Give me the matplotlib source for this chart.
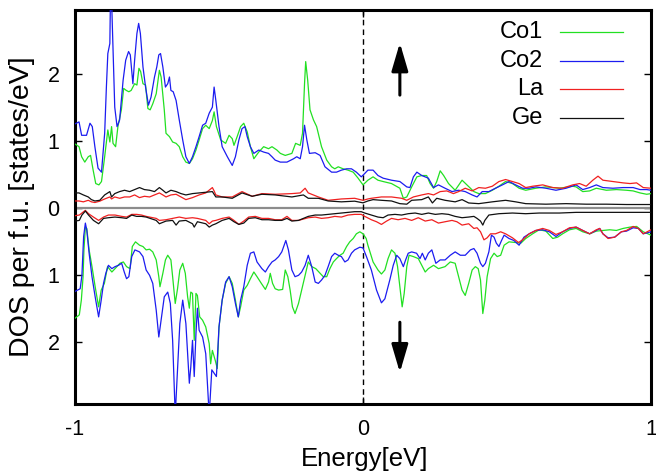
#!/usr/bin/env python3

# spin-resolved partial DOS of Co1, Co2, La and Ge around the Fermi level

import matplotlib

matplotlib.use("Agg")
import matplotlib.pyplot as plt
import numpy as np
from matplotlib.ticker import FuncFormatter

plt.rcParams["font.family"] = ["Liberation Sans", "DejaVu Sans"]
plt.rcParams["axes.unicode_minus"] = False

# (energy [eV], DOS [states/eV]) pairs, spin up
co1_up = [
    (-1.0, 0.95), (-0.986, 0.91), (-0.977, 0.76), (-0.966, 0.68), (-0.954, 0.76), (-0.946, 0.78),
    (-0.937, 0.56), (-0.928, 0.36), (-0.917, 0.34), (-0.908, 0.39), (-0.897, 0.76), (-0.886, 1.16),
    (-0.879, 0.98), (-0.873, 1.21), (-0.868, 0.96), (-0.859, 0.91), (-0.851, 1.21), (-0.839, 1.46),
    (-0.831, 1.78), (-0.822, 1.75), (-0.813, 1.73), (-0.805, 1.75), (-0.793, 1.85), (-0.785, 1.83),
    (-0.778, 2.08), (-0.772, 2.03), (-0.764, 1.85), (-0.755, 1.83), (-0.747, 1.48), (-0.739, 1.46),
    (-0.730, 1.55), (-0.718, 1.70), (-0.707, 2.05), (-0.701, 1.95), (-0.690, 1.46), (-0.684, 1.11),
    (-0.672, 1.06), (-0.661, 0.98), (-0.649, 0.96), (-0.638, 0.91), (-0.626, 0.76), (-0.615, 0.68),
    (-0.603, 0.66), (-0.592, 0.73), (-0.580, 0.86), (-0.569, 1.01), (-0.557, 1.18), (-0.546, 1.23),
    (-0.534, 1.18), (-0.523, 1.30), (-0.517, 1.43), (-0.509, 1.21), (-0.494, 1.01), (-0.477, 0.96),
    (-0.465, 1.08), (-0.454, 1.03), (-0.448, 0.93), (-0.437, 1.06), (-0.425, 1.21), (-0.414, 1.26),
    (-0.402, 1.13), (-0.391, 0.91), (-0.379, 0.73), (-0.362, 0.83), (-0.345, 0.91), (-0.328, 0.88),
    (-0.316, 0.91), (-0.299, 0.86), (-0.287, 0.81), (-0.270, 0.78), (-0.247, 0.81), (-0.234, 0.96),
    (-0.218, 0.93), (-0.210, 1.11), (-0.203, 1.85), (-0.199, 2.18), (-0.192, 1.90), (-0.184, 1.46),
    (-0.172, 1.31), (-0.161, 1.21), (-0.144, 0.91), (-0.126, 0.71), (-0.109, 0.61), (-0.098, 0.58),
    (-0.086, 0.61), (-0.069, 0.58), (-0.052, 0.56), (-0.034, 0.53), (-0.017, 0.44), (0.000, 0.34),
    (0.017, 0.41), (0.035, 0.46), (0.052, 0.41), (0.070, 0.39), (0.099, 0.36), (0.128, 0.29),
    (0.140, 0.14), (0.152, 0.16), (0.169, 0.31), (0.187, 0.46), (0.204, 0.48), (0.221, 0.48),
    (0.233, 0.36), (0.245, 0.29), (0.256, 0.39), (0.268, 0.55), (0.280, 0.48), (0.297, 0.36),
    (0.320, 0.26), (0.344, 0.41), (0.361, 0.34), (0.385, 0.24), (0.402, 0.21), (0.425, 0.21),
    (0.449, 0.26), (0.472, 0.32), (0.495, 0.39), (0.519, 0.36), (0.542, 0.29), (0.565, 0.26),
    (0.600, 0.29), (0.635, 0.31), (0.682, 0.29), (0.728, 0.32), (0.740, 0.31), (0.763, 0.24),
    (0.787, 0.25), (0.810, 0.29), (0.845, 0.26), (0.880, 0.27), (0.915, 0.26), (0.938, 0.25),
    (0.962, 0.22), (0.985, 0.20), (1.0, 0.21),
]
co2_up = [
    (-1.0, 1.25), (-0.986, 1.28), (-0.977, 1.08), (-0.960, 1.08), (-0.948, 1.26), (-0.940, 1.21),
    (-0.931, 0.91), (-0.920, 0.59), (-0.908, 0.53), (-0.897, 1.11), (-0.891, 1.80), (-0.886, 2.30),
    (-0.879, 2.45), (-0.877, 3.1), (-0.873, 3.1), (-0.868, 2.35), (-0.862, 1.50), (-0.854, 1.21),
    (-0.845, 1.31), (-0.833, 1.90), (-0.824, 2.20), (-0.814, 2.33), (-0.808, 2.28), (-0.799, 1.85),
    (-0.793, 2.20), (-0.785, 2.60), (-0.779, 2.75), (-0.773, 2.60), (-0.764, 2.10), (-0.755, 1.80),
    (-0.745, 1.53), (-0.736, 1.65), (-0.724, 1.95), (-0.716, 2.10), (-0.709, 2.28), (-0.703, 2.30),
    (-0.695, 2.10), (-0.686, 1.80), (-0.678, 1.85), (-0.672, 1.95), (-0.667, 1.75), (-0.659, 1.73),
    (-0.649, 1.60), (-0.638, 1.31), (-0.626, 1.01), (-0.615, 0.76), (-0.603, 0.66), (-0.592, 0.76),
    (-0.580, 0.91), (-0.569, 1.06), (-0.557, 1.23), (-0.546, 1.26), (-0.534, 1.41), (-0.523, 1.50),
    (-0.517, 1.80), (-0.511, 1.60), (-0.500, 1.21), (-0.489, 0.91), (-0.471, 0.76), (-0.454, 0.63),
    (-0.443, 0.76), (-0.431, 1.01), (-0.420, 1.18), (-0.410, 1.21), (-0.402, 1.06), (-0.391, 0.91),
    (-0.379, 0.81), (-0.362, 0.86), (-0.345, 0.83), (-0.328, 0.81), (-0.316, 0.76), (-0.305, 0.71),
    (-0.287, 0.68), (-0.264, 0.68), (-0.241, 0.73), (-0.230, 0.76), (-0.218, 0.73), (-0.210, 0.91),
    (-0.203, 1.23), (-0.195, 1.01), (-0.186, 0.81), (-0.166, 0.82), (-0.149, 0.78), (-0.132, 0.61),
    (-0.109, 0.53), (-0.092, 0.53), (-0.075, 0.56), (-0.057, 0.58), (-0.040, 0.58), (-0.023, 0.53),
    (-0.006, 0.46), (0.006, 0.51), (0.017, 0.56), (0.035, 0.56), (0.052, 0.48), (0.070, 0.44),
    (0.099, 0.41), (0.128, 0.39), (0.152, 0.31), (0.163, 0.30), (0.175, 0.46), (0.187, 0.53),
    (0.204, 0.48), (0.227, 0.44), (0.245, 0.30), (0.262, 0.34), (0.285, 0.29), (0.309, 0.24),
    (0.332, 0.26), (0.355, 0.24), (0.379, 0.19), (0.396, 0.16), (0.414, 0.24), (0.437, 0.24),
    (0.460, 0.29), (0.484, 0.34), (0.507, 0.39), (0.530, 0.34), (0.554, 0.29), (0.577, 0.29),
    (0.600, 0.31), (0.635, 0.29), (0.670, 0.26), (0.705, 0.29), (0.740, 0.34), (0.763, 0.27),
    (0.787, 0.30), (0.810, 0.34), (0.833, 0.30), (0.868, 0.29), (0.903, 0.30), (0.938, 0.30),
    (0.962, 0.27), (0.985, 0.27), (1.0, 0.26),
]
la_up = [
    (-1.0, 0.10), (-0.986, 0.10), (-0.971, 0.087), (-0.954, 0.11), (-0.943, 0.087), (-0.931, 0.077),
    (-0.914, 0.097), (-0.897, 0.13), (-0.879, 0.16), (-0.873, 0.13), (-0.862, 0.16), (-0.845, 0.14),
    (-0.828, 0.16), (-0.810, 0.16), (-0.793, 0.19), (-0.776, 0.15), (-0.759, 0.17), (-0.741, 0.16),
    (-0.724, 0.19), (-0.707, 0.22), (-0.695, 0.19), (-0.684, 0.16), (-0.667, 0.19), (-0.649, 0.20),
    (-0.632, 0.16), (-0.615, 0.12), (-0.592, 0.15), (-0.569, 0.19), (-0.546, 0.22), (-0.523, 0.30),
    (-0.517, 0.25), (-0.511, 0.19), (-0.489, 0.16), (-0.454, 0.16), (-0.420, 0.24), (-0.385, 0.17),
    (-0.351, 0.21), (-0.305, 0.20), (-0.247, 0.21), (-0.218, 0.22), (-0.201, 0.29), (-0.190, 0.22),
    (-0.155, 0.16), (-0.121, 0.11), (-0.075, 0.13), (-0.029, 0.14), (0.000, 0.11), (0.017, 0.13),
    (0.029, 0.14), (0.064, 0.16), (0.099, 0.16), (0.134, 0.14), (0.152, 0.11), (0.175, 0.16),
    (0.204, 0.19), (0.227, 0.21), (0.245, 0.19), (0.268, 0.24), (0.291, 0.25), (0.314, 0.21),
    (0.332, 0.24), (0.355, 0.29), (0.379, 0.25), (0.402, 0.30), (0.425, 0.29), (0.449, 0.32),
    (0.472, 0.39), (0.495, 0.42), (0.519, 0.39), (0.542, 0.36), (0.565, 0.30), (0.589, 0.32),
    (0.624, 0.34), (0.659, 0.30), (0.693, 0.29), (0.728, 0.34), (0.752, 0.36), (0.775, 0.32),
    (0.798, 0.41), (0.816, 0.47), (0.833, 0.41), (0.868, 0.39), (0.903, 0.37), (0.927, 0.36),
    (0.950, 0.37), (0.973, 0.30), (1.0, 0.29),
]
ge_up = [
    (-1.0, 0.22), (-0.986, 0.22), (-0.971, 0.19), (-0.954, 0.16), (-0.943, 0.12), (-0.931, 0.10),
    (-0.914, 0.11), (-0.897, 0.19), (-0.879, 0.24), (-0.873, 0.16), (-0.862, 0.21), (-0.845, 0.24),
    (-0.828, 0.26), (-0.810, 0.24), (-0.793, 0.27), (-0.776, 0.30), (-0.759, 0.27), (-0.741, 0.26),
    (-0.724, 0.24), (-0.707, 0.30), (-0.695, 0.26), (-0.684, 0.22), (-0.667, 0.26), (-0.649, 0.24),
    (-0.632, 0.21), (-0.615, 0.19), (-0.592, 0.21), (-0.569, 0.22), (-0.546, 0.23), (-0.523, 0.24),
    (-0.511, 0.16), (-0.489, 0.16), (-0.454, 0.14), (-0.420, 0.22), (-0.385, 0.17), (-0.351, 0.20),
    (-0.305, 0.19), (-0.247, 0.16), (-0.207, 0.19), (-0.190, 0.14), (-0.155, 0.14), (-0.121, 0.10),
    (-0.075, 0.087), (-0.029, 0.097), (0.000, 0.072), (0.017, 0.10), (0.035, 0.12), (0.064, 0.11),
    (0.099, 0.10), (0.128, 0.06), (0.152, 0.052), (0.169, 0.11), (0.204, 0.12), (0.227, 0.16),
    (0.241, 0.07), (0.256, 0.14), (0.285, 0.11), (0.320, 0.087), (0.344, 0.12), (0.367, 0.07),
    (0.402, 0.06), (0.449, 0.087), (0.495, 0.11), (0.530, 0.087), (0.565, 0.06), (0.635, 0.052),
    (0.705, 0.06), (0.775, 0.052), (0.845, 0.052), (0.915, 0.047), (1.0, 0.047),
]

# spin down, drawn as negative values
co1_dn = [
    (-1.0, -1.65), (-0.985, -1.60), (-0.978, -1.38), (-0.972, -1.03), (-0.969, -0.63), (-0.964, -0.29),
    (-0.959, -0.31), (-0.951, -0.63), (-0.941, -0.88), (-0.930, -1.18), (-0.918, -1.48), (-0.909, -1.23),
    (-0.898, -1.13), (-0.887, -0.88), (-0.872, -0.96), (-0.861, -0.91), (-0.844, -0.83), (-0.832, -0.81),
    (-0.821, -0.88), (-0.809, -0.91), (-0.801, -0.58), (-0.790, -0.51), (-0.776, -0.56), (-0.764, -0.58),
    (-0.753, -0.63), (-0.741, -0.62), (-0.730, -0.66), (-0.718, -0.78), (-0.709, -1.03), (-0.705, -1.18),
    (-0.695, -0.98), (-0.686, -0.78), (-0.678, -0.71), (-0.667, -0.78), (-0.661, -1.03), (-0.652, -1.43),
    (-0.644, -1.21), (-0.636, -0.93), (-0.626, -0.83), (-0.617, -0.98), (-0.609, -1.33), (-0.603, -1.50),
    (-0.598, -1.26), (-0.592, -1.28), (-0.586, -1.98), (-0.580, -1.28), (-0.575, -1.31), (-0.567, -1.63),
    (-0.557, -1.68), (-0.546, -1.78), (-0.534, -2.03), (-0.529, -2.33), (-0.523, -2.13), (-0.513, -2.28),
    (-0.506, -2.40), (-0.500, -1.78), (-0.489, -1.38), (-0.477, -1.13), (-0.465, -1.03), (-0.454, -1.13),
    (-0.443, -1.38), (-0.433, -1.63), (-0.425, -1.48), (-0.414, -1.23), (-0.402, -1.16), (-0.391, -1.06),
    (-0.379, -0.96), (-0.368, -1.03), (-0.353, -1.13), (-0.339, -1.22), (-0.328, -1.11), (-0.322, -0.98),
    (-0.314, -1.13), (-0.305, -1.21), (-0.293, -1.23), (-0.279, -1.22), (-0.270, -0.93), (-0.261, -1.03),
    (-0.253, -1.23), (-0.245, -1.48), (-0.236, -1.58), (-0.224, -1.43), (-0.213, -1.23), (-0.199, -0.98),
    (-0.190, -0.81), (-0.178, -0.88), (-0.164, -0.91), (-0.149, -0.98), (-0.138, -1.03), (-0.126, -1.03),
    (-0.115, -0.91), (-0.103, -0.81), (-0.092, -0.76), (-0.080, -0.71), (-0.069, -0.68), (-0.057, -0.58),
    (-0.046, -0.51), (-0.034, -0.46), (-0.023, -0.39), (-0.011, -0.36), (0.000, -0.39), (0.011, -0.46),
    (0.017, -0.56), (0.035, -0.81), (0.052, -0.93), (0.064, -0.99), (0.076, -0.93), (0.087, -0.76),
    (0.099, -0.63), (0.111, -0.68), (0.120, -0.88), (0.128, -1.18), (0.136, -1.48), (0.143, -1.28),
    (0.152, -0.88), (0.160, -0.71), (0.175, -0.73), (0.192, -0.76), (0.204, -0.86), (0.216, -0.96),
    (0.227, -0.91), (0.245, -0.86), (0.262, -0.91), (0.285, -0.88), (0.303, -0.81), (0.320, -0.83),
    (0.332, -1.03), (0.344, -1.23), (0.355, -1.31), (0.367, -1.13), (0.379, -0.93), (0.390, -0.88),
    (0.400, -0.91), (0.408, -1.08), (0.416, -1.58), (0.423, -1.38), (0.431, -1.03), (0.443, -0.76),
    (0.455, -0.68), (0.466, -0.73), (0.478, -0.71), (0.490, -0.56), (0.507, -0.51), (0.530, -0.52),
    (0.548, -0.53), (0.565, -0.46), (0.589, -0.39), (0.612, -0.33), (0.635, -0.35), (0.659, -0.46),
    (0.676, -0.44), (0.693, -0.39), (0.717, -0.33), (0.740, -0.31), (0.763, -0.36), (0.787, -0.39),
    (0.810, -0.35), (0.833, -0.34), (0.857, -0.33), (0.880, -0.34), (0.903, -0.31), (0.927, -0.29),
    (0.950, -0.28), (0.973, -0.36), (1.0, -0.41),
]
co2_dn = [
    (-1.0, -1.25), (-0.982, -1.21), (-0.976, -1.01), (-0.970, -0.43), (-0.964, -0.23), (-0.959, -0.34),
    (-0.951, -0.68), (-0.941, -1.03), (-0.930, -1.33), (-0.918, -1.63), (-0.909, -1.38), (-0.901, -1.13),
    (-0.893, -0.98), (-0.884, -0.86), (-0.872, -0.91), (-0.861, -0.88), (-0.849, -0.86), (-0.838, -0.83),
    (-0.829, -0.96), (-0.821, -1.06), (-0.813, -1.03), (-0.803, -0.73), (-0.792, -0.63), (-0.776, -0.66),
    (-0.764, -0.73), (-0.753, -0.93), (-0.741, -1.01), (-0.730, -1.13), (-0.718, -1.53), (-0.709, -1.93),
    (-0.701, -1.68), (-0.690, -1.33), (-0.678, -1.26), (-0.669, -1.43), (-0.661, -1.98), (-0.652, -3.1),
    (-0.644, -2.42), (-0.636, -1.73), (-0.626, -1.38), (-0.615, -1.73), (-0.603, -2.62), (-0.598, -2.38),
    (-0.592, -1.98), (-0.586, -2.52), (-0.580, -1.88), (-0.575, -1.50), (-0.569, -1.83), (-0.557, -1.93),
    (-0.546, -2.18), (-0.534, -3.1), (-0.525, -2.42), (-0.517, -2.47), (-0.509, -2.52), (-0.500, -1.78),
    (-0.489, -1.38), (-0.477, -1.11), (-0.465, -1.03), (-0.454, -1.18), (-0.443, -1.43), (-0.433, -1.63),
    (-0.425, -1.38), (-0.414, -1.18), (-0.402, -0.86), (-0.391, -0.68), (-0.379, -0.66), (-0.368, -0.81),
    (-0.351, -0.91), (-0.339, -0.96), (-0.328, -0.88), (-0.316, -0.81), (-0.305, -0.78), (-0.293, -0.73),
    (-0.282, -0.66), (-0.268, -0.49), (-0.259, -0.63), (-0.247, -0.93), (-0.236, -1.03), (-0.224, -1.01),
    (-0.213, -0.96), (-0.201, -0.86), (-0.190, -0.71), (-0.178, -0.88), (-0.166, -1.11), (-0.155, -1.13),
    (-0.144, -1.08), (-0.132, -1.01), (-0.121, -0.88), (-0.109, -0.73), (-0.098, -0.68), (-0.086, -0.71),
    (-0.075, -0.73), (-0.063, -0.81), (-0.052, -0.78), (-0.040, -0.68), (-0.029, -0.63), (-0.011, -0.59),
    (0.000, -0.60), (0.012, -0.73), (0.029, -0.93), (0.047, -1.23), (0.064, -1.42), (0.076, -1.36),
    (0.093, -1.08), (0.105, -0.86), (0.117, -0.71), (0.128, -0.76), (0.140, -0.88), (0.148, -0.78),
    (0.157, -0.68), (0.169, -0.66), (0.186, -0.68), (0.198, -0.76), (0.206, -0.68), (0.216, -0.78),
    (0.227, -0.68), (0.239, -0.63), (0.253, -0.83), (0.268, -0.78), (0.285, -0.78), (0.303, -0.71),
    (0.320, -0.66), (0.338, -0.71), (0.355, -0.71), (0.373, -0.63), (0.385, -0.61), (0.396, -0.68),
    (0.408, -0.83), (0.416, -0.88), (0.425, -0.83), (0.437, -0.66), (0.446, -0.41), (0.455, -0.44),
    (0.463, -0.53), (0.472, -0.58), (0.481, -0.49), (0.490, -0.41), (0.507, -0.46), (0.524, -0.49),
    (0.542, -0.56), (0.559, -0.44), (0.577, -0.39), (0.600, -0.34), (0.624, -0.33), (0.647, -0.36),
    (0.670, -0.43), (0.693, -0.36), (0.717, -0.31), (0.740, -0.29), (0.763, -0.34), (0.787, -0.39),
    (0.810, -0.34), (0.822, -0.31), (0.833, -0.39), (0.851, -0.45), (0.874, -0.44), (0.897, -0.36),
    (0.915, -0.35), (0.938, -0.30), (0.956, -0.31), (0.973, -0.39), (1.0, -0.36),
]
la_dn = [
    (-1.0, -0.12), (-0.985, -0.11), (-0.976, -0.08), (-0.964, -0.04), (-0.953, -0.09), (-0.936, -0.14),
    (-0.918, -0.19), (-0.901, -0.14), (-0.884, -0.11), (-0.861, -0.11), (-0.838, -0.13), (-0.821, -0.14),
    (-0.803, -0.10), (-0.786, -0.10), (-0.769, -0.11), (-0.753, -0.13), (-0.718, -0.16), (-0.707, -0.19),
    (-0.684, -0.18), (-0.661, -0.16), (-0.638, -0.14), (-0.615, -0.16), (-0.592, -0.15), (-0.575, -0.16),
    (-0.546, -0.19), (-0.534, -0.24), (-0.523, -0.20), (-0.511, -0.19), (-0.489, -0.16), (-0.465, -0.14),
    (-0.448, -0.19), (-0.431, -0.25), (-0.414, -0.20), (-0.397, -0.14), (-0.374, -0.13), (-0.351, -0.16),
    (-0.328, -0.16), (-0.305, -0.18), (-0.282, -0.18), (-0.264, -0.13), (-0.247, -0.19), (-0.224, -0.19),
    (-0.190, -0.15), (-0.166, -0.14), (-0.144, -0.16), (-0.121, -0.15), (-0.098, -0.13), (-0.075, -0.14),
    (-0.052, -0.11), (-0.029, -0.10), (-0.006, -0.10), (0.006, -0.13), (0.029, -0.18), (0.047, -0.21),
    (0.064, -0.25), (0.082, -0.20), (0.099, -0.16), (0.122, -0.18), (0.146, -0.16), (0.169, -0.19),
    (0.192, -0.15), (0.216, -0.20), (0.239, -0.18), (0.262, -0.23), (0.285, -0.21), (0.309, -0.19),
    (0.326, -0.21), (0.344, -0.26), (0.367, -0.24), (0.385, -0.31), (0.396, -0.30), (0.408, -0.36),
    (0.420, -0.48), (0.431, -0.45), (0.443, -0.39), (0.460, -0.39), (0.478, -0.36), (0.495, -0.39),
    (0.519, -0.45), (0.540, -0.52), (0.554, -0.48), (0.577, -0.39), (0.600, -0.34), (0.624, -0.31),
    (0.647, -0.34), (0.670, -0.40), (0.693, -0.36), (0.717, -0.30), (0.740, -0.29), (0.763, -0.34),
    (0.787, -0.39), (0.810, -0.33), (0.822, -0.31), (0.833, -0.39), (0.851, -0.46), (0.874, -0.44),
    (0.897, -0.36), (0.915, -0.34), (0.938, -0.28), (0.956, -0.31), (0.973, -0.39), (1.0, -0.33),
]
ge_dn = [
    (-1.0, -0.20), (-0.985, -0.19), (-0.976, -0.11), (-0.964, -0.05), (-0.953, -0.11), (-0.936, -0.19),
    (-0.918, -0.24), (-0.901, -0.16), (-0.884, -0.15), (-0.861, -0.14), (-0.838, -0.15), (-0.821, -0.16),
    (-0.803, -0.11), (-0.786, -0.13), (-0.769, -0.13), (-0.753, -0.14), (-0.718, -0.19), (-0.707, -0.24),
    (-0.684, -0.20), (-0.661, -0.19), (-0.649, -0.26), (-0.638, -0.20), (-0.615, -0.19), (-0.592, -0.24),
    (-0.586, -0.29), (-0.575, -0.21), (-0.546, -0.24), (-0.534, -0.29), (-0.523, -0.26), (-0.511, -0.24),
    (-0.489, -0.19), (-0.465, -0.16), (-0.448, -0.21), (-0.431, -0.25), (-0.414, -0.23), (-0.397, -0.16),
    (-0.374, -0.15), (-0.351, -0.18), (-0.328, -0.18), (-0.305, -0.19), (-0.282, -0.19), (-0.264, -0.16),
    (-0.247, -0.20), (-0.224, -0.19), (-0.190, -0.13), (-0.166, -0.11), (-0.144, -0.11), (-0.121, -0.10),
    (-0.098, -0.09), (-0.075, -0.08), (-0.052, -0.07), (-0.029, -0.06), (-0.006, -0.06), (0.006, -0.08),
    (0.029, -0.11), (0.052, -0.14), (0.070, -0.15), (0.087, -0.11), (0.111, -0.10), (0.134, -0.11),
    (0.157, -0.09), (0.181, -0.08), (0.204, -0.10), (0.227, -0.08), (0.251, -0.10), (0.274, -0.09),
    (0.297, -0.10), (0.320, -0.13), (0.344, -0.15), (0.367, -0.14), (0.385, -0.13), (0.396, -0.16),
    (0.408, -0.20), (0.416, -0.26), (0.423, -0.19), (0.437, -0.11), (0.472, -0.09), (0.519, -0.08),
    (0.565, -0.09), (0.612, -0.08), (0.682, -0.08), (0.740, -0.07), (0.798, -0.07), (0.857, -0.07),
    (1.0, -0.07),
]

labels = ["Co1", "Co2", "La", "Ge"]
colors = ["#22e022", "#1c1cf0", "#f02020", "#111111"]


def main():
    fig = plt.figure(figsize=(6.56, 4.76), dpi=100)
    ax = fig.add_axes([75 / 656, 1 - 404 / 476, 576 / 656, 394 / 476])

    curves = [(co1_up, co1_dn), (co2_up, co2_dn), (la_up, la_dn), (ge_up, ge_dn)]
    for (up, dn), color in zip(curves, colors):
        for data in (up, dn):
            arr = np.array(data)
            ax.plot(arr[:, 0], arr[:, 1], color=color, lw=0.9, zorder=3)

    # zero line and Fermi level
    ax.axhline(0, color="#8c8c8c", lw=1.6, zorder=2)
    ax.axvline(0, color="k", lw=1.0, ls=(0, (4, 3)), zorder=2)

    # spin direction arrows
    arrow = dict(arrowstyle="-|>,head_length=0.85,head_width=0.25", color="k", lw=2.2,
                 mutation_scale=20, shrinkA=0, shrinkB=0)
    ax.annotate("", xy=(0.128, 2.46), xytext=(0.128, 1.68), arrowprops=arrow)
    ax.annotate("", xy=(0.128, -2.46), xytext=(0.128, -1.71), arrowprops=arrow)

    ax.set_xlim(-1, 1)
    ax.set_ylim(-2.93, 2.95)
    ax.set_xticks([-1, 0, 1])
    ax.set_yticks([-2, -1, 0, 1, 2])
    ax.yaxis.set_major_formatter(FuncFormatter(lambda v, _: f"{abs(v):g}"))
    ax.tick_params(direction="in", length=5, width=1, labelsize=15.5, top=True, right=True)
    ax.tick_params(axis="y", pad=11)
    ax.tick_params(axis="x", pad=10.5)
    for spine in ax.spines.values():
        spine.set_linewidth(2.2)

    ax.set_xlabel("Energy[eV]", fontsize=18.5)
    ax.xaxis.set_label_coords(0.503, -0.108)
    ax.set_ylabel("DOS per f.u. [states/eV]", fontsize=20.5)
    ax.yaxis.set_label_coords(-0.07, 0.5)

    # key: right-aligned names with a line sample to their right
    rows = [0.944, 0.871, 0.799, 0.726]
    for name, color, y in zip(labels, colors, rows):
        ax.plot([0.842, 0.951], [y, y], color=color, lw=0.9, transform=ax.transAxes)
        ax.text(0.8125, y, name, ha="right", va="center", fontsize=17, transform=ax.transAxes)

    fig.savefig("out.png", dpi=100)


if __name__ == "__main__":
    main()
